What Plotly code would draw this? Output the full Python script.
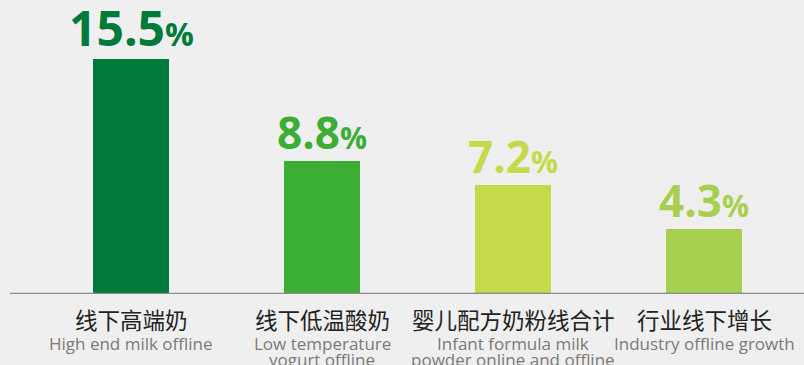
import plotly.graph_objects as go

categories_cn = ["线下高端奶", "线下低温酸奶", "婴儿配方奶粉线合计", "行业线下增长"]
categories_en = [
    ["High end milk offline"],
    ["Low temperature", "yogurt offline"],
    ["Infant formula milk", "powder online and offline"],
    ["Industry offline growth"],
]
values = [15.5, 8.8, 7.2, 4.3]
colors = ["#027A3A", "#3DAE35", "#C5D94B", "#A9CF50"]
label_sizes = [48, 44, 44, 44]
pct_sizes = [32, 30, 30, 30]

fig = go.Figure()
fig.add_trace(go.Bar(
    x=categories_cn, y=values, marker=dict(color=colors, line=dict(width=0)),
    width=0.40, hoverinfo="skip",
))

annotations = []
for i, (c, v) in enumerate(zip(categories_cn, values)):
    annotations.append(dict(
        x=c, y=v, xref="x", yref="y", yanchor="bottom", xanchor="center",
        showarrow=False, yshift=-3,
        text=f"{v:.1f}<span style='font-size:{pct_sizes[i]}px'>%</span>",
        font=dict(family="Open Sans", size=label_sizes[i], color=colors[i], weight=700),
    ))
    annotations.append(dict(
        x=c, y=0, xref="x", yref="y", yanchor="top", xanchor="center",
        showarrow=False, yshift=-7, text=c,
        font=dict(family="Noto Sans CJK SC", size=22.5, color="#222222"),
    ))
    for j, line in enumerate(categories_en[i]):
        annotations.append(dict(
            x=c, y=0, xref="x", yref="y", yanchor="top", xanchor="center",
            showarrow=False, yshift=-36 - 16 * j, text=line,
            font=dict(family="Open Sans", size=17, color="#7A7A7A"),
        ))

fig.update_layout(
    width=804, height=365,
    margin=dict(l=10, r=0, t=0, b=71),
    paper_bgcolor="#EFEFEF", plot_bgcolor="#EFEFEF",
    showlegend=False, bargap=0,
    annotations=annotations,
    xaxis=dict(range=[-0.634, 3.523], showticklabels=False, showgrid=False,
               zeroline=False, showline=False, ticks=""),
    yaxis=dict(range=[0, 19.4], visible=False, showgrid=False, zeroline=False),
    shapes=[dict(type="line", xref="paper", yref="y", x0=0, x1=1, y0=0, y1=0,
                 line=dict(color="#8C8C8C", width=2.5))],
)

fig.write_html("out.html")
